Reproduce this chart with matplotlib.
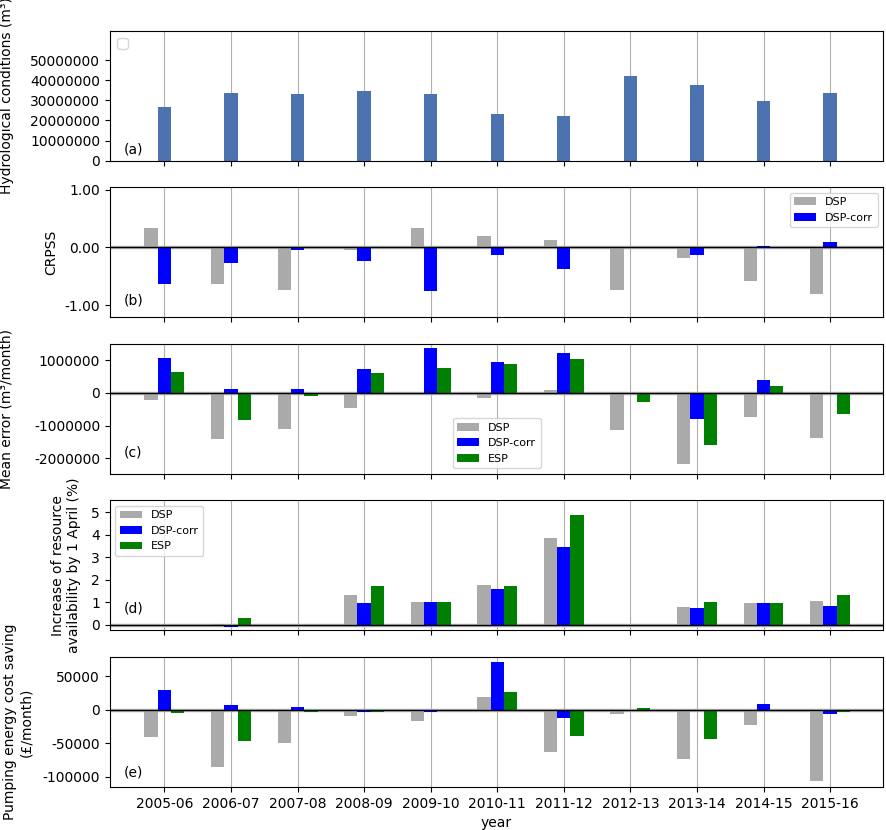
import matplotlib
matplotlib.use("Agg")
import matplotlib.pyplot as plt
import numpy as np
from matplotlib.ticker import FuncFormatter

years = ["2005-06", "2006-07", "2007-08", "2008-09", "2009-10", "2010-11",
         "2011-12", "2012-13", "2013-14", "2014-15", "2015-16"]

hydro = [26.6e6, 33.6e6, 33.1e6, 34.6e6, 33.1e6, 23.1e6, 22.1e6, 42.0e6, 37.6e6, 29.6e6, 33.6e6]

crpss_dsp = [0.33, -0.63, -0.73, -0.05, 0.33, 0.19, 0.125, -0.73, -0.18, -0.59, -0.80]
crpss_corr = [-0.64, -0.27, -0.05, -0.23, -0.75, -0.13, -0.37, 0.0, -0.13, 0.02, 0.10]

me_dsp = [-0.205e6, -1.405e6, -1.097e6, -0.45e6, 0.0, -0.14e6, 0.10e6, -1.13e6, -2.17e6, -0.73e6, -1.37e6]
me_corr = [1.087e6, 0.133e6, 0.133e6, 0.75e6, 1.395e6, 0.964e6, 1.24e6, 0.0, -0.79e6, 0.41e6, 0.0]
me_esp = [0.656e6, -0.82e6, -0.08e6, 0.626e6, 0.78e6, 0.90e6, 1.056e6, -0.267e6, -1.59e6, 0.226e6, -0.636e6]

ra_dsp = [0.0, 0.04, 0.0, 1.32, 1.01, 1.75, 3.86, 0.0, 0.79, 0.96, 1.05]
ra_corr = [0.0, -0.12, 0.0, 0.96, 1.01, 1.58, 3.46, 0.0, 0.75, 0.96, 0.83]
ra_esp = [0.0, 0.31, 0.0, 1.71, 1.01, 1.71, 4.87, 0.0, 1.01, 0.96, 1.32]

pc_dsp = [-41300, -86000, -50200, -9950, -17400, 18400, -63700, -7000, -74100, -23400, -105500]
pc_corr = [28900, 6500, 3500, -4000, -4000, 70600, -12900, 0, 0, 8000, -7000]
pc_esp = [-5500, -47300, -4000, -4000, 0, 25900, -39800, 2000, -44300, 0, -4000]

x = np.arange(len(years))
w = 0.2
C_DSP = "#aaaaaa"
C_CORR = "blue"
C_ESP = "green"

fig, axes = plt.subplots(5, 1, figsize=(8.86, 8.30), dpi=100, sharex=True)
fig.subplots_adjust(left=0.124, right=0.997, top=0.963, bottom=0.052, hspace=0.204)

intfmt = FuncFormatter(lambda v, p: "%d" % v)

def zero_line(ax):
    ax.axhline(0, color="#bbbbbb", lw=2.5, zorder=1.5)
    ax.axhline(0, color="black", lw=1.0, zorder=3)

# (a)
ax = axes[0]
ax.bar(x, hydro, w, color="#4c72b0", zorder=2)
ax.set_ylim(0, 64.6e6)
ax.set_yticks([0, 10e6, 20e6, 30e6, 40e6, 50e6])
ax.yaxis.set_major_formatter(intfmt)
ax.set_ylabel("Hydrological conditions (m³)")
ax.yaxis.set_label_coords(-0.1242, 0.5)
ax.legend(handles=[], loc="upper left")
ax.text(0.018, 0.087, "(a)", transform=ax.transAxes, va="center", fontsize=10)

# (b)
ax = axes[1]
ax.bar(x - w, crpss_dsp, w, color=C_DSP, label="DSP", zorder=2)
ax.bar(x, crpss_corr, w, color=C_CORR, label="DSP-corr", zorder=2)
zero_line(ax)
ax.set_ylim(-1.21, 1.04)
ax.set_yticks([-1, 0, 1])
ax.yaxis.set_major_formatter(FuncFormatter(lambda v, p: "%.2f" % v))
ax.set_ylabel("CRPSS")
ax.yaxis.set_label_coords(-0.0672, 0.5)
ax.legend(loc="upper right", fontsize=8)
ax.text(0.018, 0.13, "(b)", transform=ax.transAxes, va="center", fontsize=10)

# (c)
ax = axes[2]
ax.bar(x - w, me_dsp, w, color=C_DSP, label="DSP", zorder=2)
ax.bar(x, me_corr, w, color=C_CORR, label="DSP-corr", zorder=2)
ax.bar(x + w, me_esp, w, color=C_ESP, label="ESP", zorder=2)
zero_line(ax)
ax.set_ylim(-2.48e6, 1.51e6)
ax.set_yticks([-2e6, -1e6, 0, 1e6])
ax.yaxis.set_major_formatter(intfmt)
ax.set_ylabel("Mean error (m³/month)")
ax.yaxis.set_label_coords(-0.1242, 0.5)
ax.legend(loc="lower center", fontsize=8)
ax.text(0.018, 0.16, "(c)", transform=ax.transAxes, va="center", fontsize=10)

# (d)
ax = axes[3]
ax.bar(x - w, ra_dsp, w, color=C_DSP, label="DSP", zorder=2)
ax.bar(x, ra_corr, w, color=C_CORR, label="DSP-corr", zorder=2)
ax.bar(x + w, ra_esp, w, color=C_ESP, label="ESP", zorder=2)
zero_line(ax)
ax.set_ylim(-0.25, 5.53)
ax.set_yticks([0, 1, 2, 3, 4, 5])
ax.set_ylabel("Increase of resource\navailability by 1 April (%)")
ax.yaxis.set_label_coords(-0.0374, 0.5)
ax.legend(loc="upper left", fontsize=8)
ax.text(0.018, 0.165, "(d)", transform=ax.transAxes, va="center", fontsize=10)

# (e)
ax = axes[4]
ax.bar(x - w, pc_dsp, w, color=C_DSP, label="DSP", zorder=2)
ax.bar(x, pc_corr, w, color=C_CORR, label="DSP-corr", zorder=2)
ax.bar(x + w, pc_esp, w, color=C_ESP, label="ESP", zorder=2)
zero_line(ax)
ax.set_ylim(-114900, 78600)
ax.set_yticks([-100000, -50000, 0, 50000])
ax.yaxis.set_major_formatter(intfmt)
ax.set_ylabel("Pumping energy cost saving\n(£/month)")
ax.yaxis.set_label_coords(-0.0996, 0.5)
ax.text(0.018, 0.113, "(e)", transform=ax.transAxes, va="center", fontsize=10)
ax.set_xlabel("year")

for ax in axes:
    ax.set_xlim(-0.82, 10.8)
    ax.set_xticks(x)
    ax.grid(True, axis="x", color="#b0b0b0", lw=0.8, zorder=0)
    ax.set_axisbelow(True)
axes[-1].set_xticklabels(years)

fig.savefig("out.png", dpi=100)
